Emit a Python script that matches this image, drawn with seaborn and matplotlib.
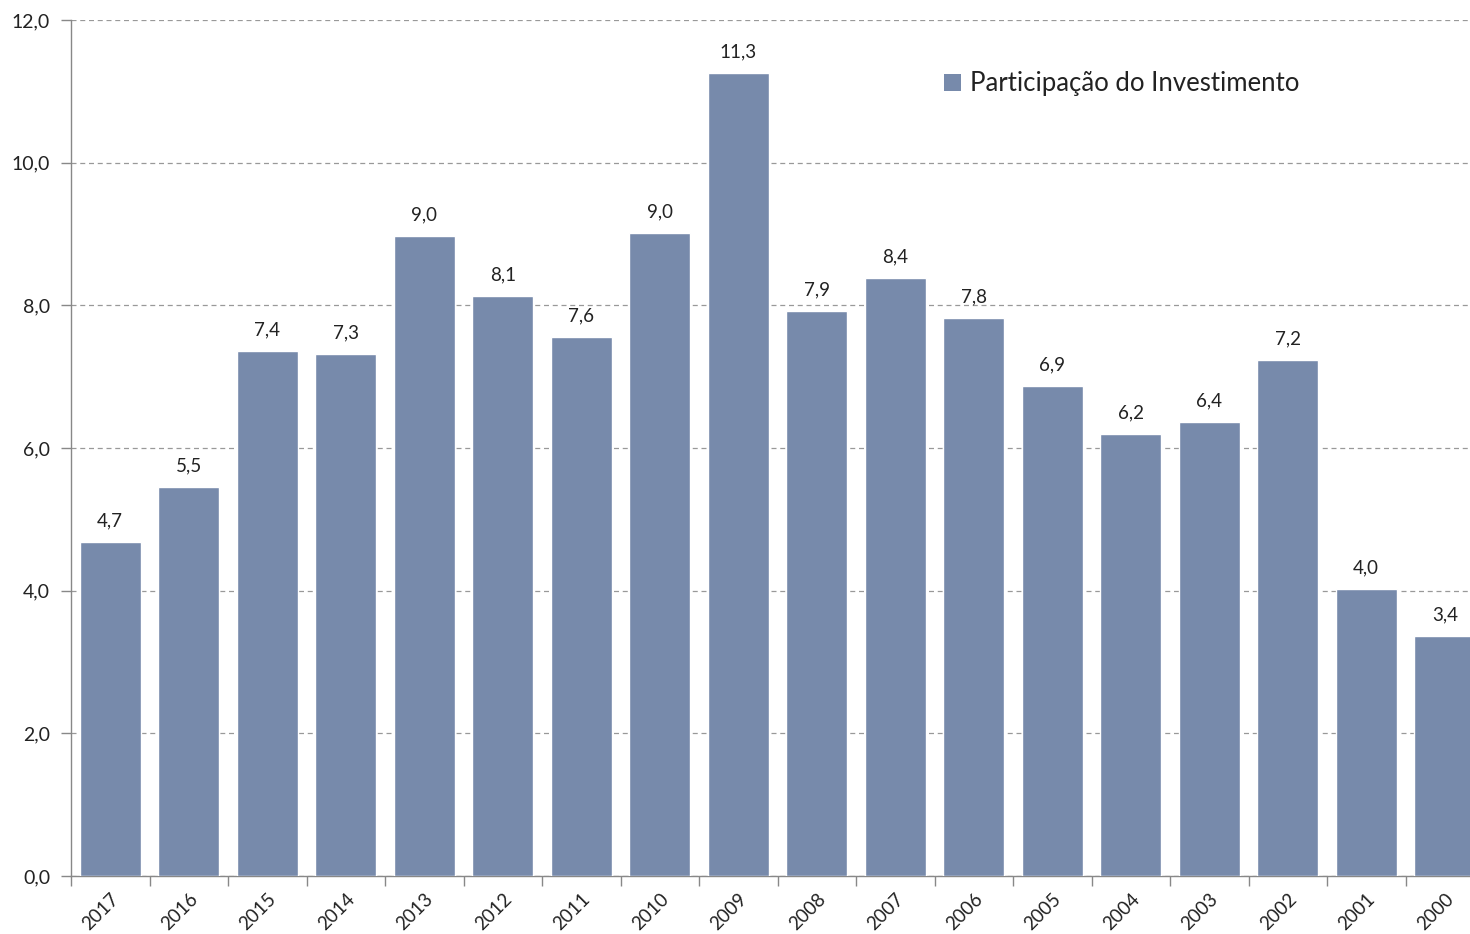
import matplotlib
matplotlib.use("Agg")
import matplotlib.pyplot as plt
import seaborn as sns
import pandas as pd
from matplotlib.patches import Patch
from matplotlib.ticker import FixedLocator, FuncFormatter

years = ["2017", "2016", "2015", "2014", "2013", "2012", "2011", "2010", "2009",
         "2008", "2007", "2006", "2005", "2004", "2003", "2002", "2001", "2000"]
values = [4.68, 5.46, 7.36, 7.32, 8.97, 8.13, 7.56, 9.01, 11.26,
          7.92, 8.38, 7.82, 6.87, 6.20, 6.37, 7.23, 4.02, 3.36]
series_name = "Participação do Investimento"
y_ticks = [0, 2, 4, 6, 8, 10, 12]

bar_color = "#778AAB"
text_color = "#222222"
axis_color = "#888888"

sns.set_theme(style="white")
plt.rcParams["font.family"] = ["Lato", "DejaVu Sans"]

df = pd.DataFrame({"year": years, "value": values})

W, H = 1470, 934
fig = plt.figure(figsize=(W / 100, H / 100), dpi=100)
ax = fig.add_axes([71 / W, 1 - 876 / H, 1413 / W, (876 - 20) / H])

sns.barplot(data=df, x="year", y="value", order=years, color=bar_color,
            saturation=1, width=0.78, ax=ax, zorder=3)

ax.set_xlim(-0.5, len(years) - 0.5)
ax.set_ylim(0, 12)
ax.set_yticks(y_ticks)
ax.yaxis.set_major_formatter(FuncFormatter(lambda v, p: f"{v:.1f}".replace(".", ",")))
ax.yaxis.grid(True, linestyle=(0, (4, 3)), color="#999999", linewidth=0.9, zorder=0)
ax.set_axisbelow(True)
ax.set_xlabel("")
ax.set_ylabel("")

for s in ["top", "right"]:
    ax.spines[s].set_visible(False)
for s in ["left", "bottom"]:
    ax.spines[s].set_color(axis_color)
    ax.spines[s].set_linewidth(1.0)

ax.tick_params(axis="y", which="major", length=7, width=1, color=axis_color,
               labelsize=14, labelcolor=text_color, pad=8, left=True)
ax.tick_params(axis="x", which="major", length=0, labelsize=13.5,
               labelcolor=text_color, pad=10)
ax.xaxis.set_minor_locator(FixedLocator([i - 0.5 for i in range(len(years) + 1)]))
ax.tick_params(axis="x", which="minor", length=7, width=1, color=axis_color, bottom=True)
for lbl in ax.get_xticklabels():
    lbl.set_rotation(45)
    lbl.set_ha("right")
    lbl.set_va("top")
    lbl.set_rotation_mode("anchor")

for i, v in enumerate(values):
    ax.annotate(f"{v:.1f}".replace(".", ","), (i, v), xytext=(0, 9),
                textcoords="offset points", ha="center", va="bottom",
                fontsize=13.5, color=text_color)

handle = Patch(facecolor=bar_color, edgecolor="none")
fig.legend([handle], [series_name], loc="center left", bbox_to_anchor=(921 / W, 1 - 84 / H),
           frameon=False, fontsize=18.5, handlelength=0.65, handleheight=0.65,
           handletextpad=0.35, labelcolor=text_color)

fig.savefig("out.png", dpi=100, facecolor="white")
